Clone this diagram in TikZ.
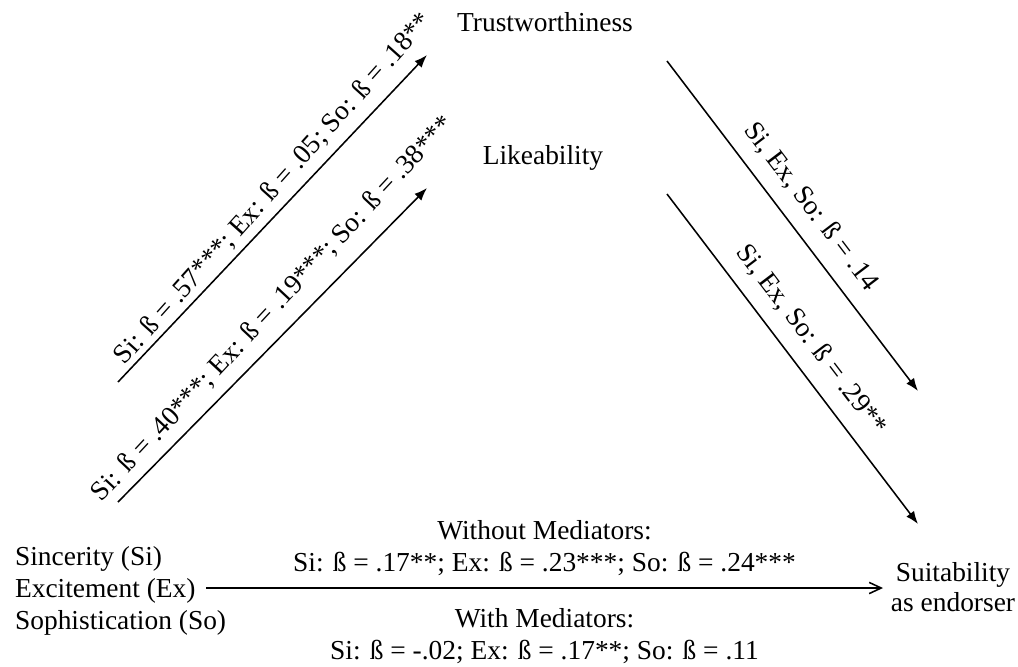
\documentclass[tikz,border=0pt]{standalone}
\usepackage{fontspec}
\setmainfont{Liberation Serif}
\usetikzlibrary{arrows.meta}

\begin{document}
\begin{tikzpicture}[x=0.025cm, y=-0.025cm,
        lbl/.style={font=\fontsize{19.5}{23}\selectfont, align=center, inner sep=2pt},
        effect/.style={line width=1.1pt, -{Latex[length=3.2mm, width=2.4mm]}},
        direct/.style={line width=1.1pt, -{Straight Barb[length=3mm, width=2.8mm]}}]
      \useasboundingbox (0,0) rectangle (1018,666);
      % Constructs
      \node[lbl] (trust) at (545,22) {Trustworthiness};
      \node[lbl] (like) at (543,158) {Likeability};
      \node[lbl, align=left, anchor=west] (traits) at (12,591) {Sincerity (Si)\\Excitement (Ex)\\Sophistication (So)};
      \node[lbl, font=\fontsize{19.5}{21.5}\selectfont] (suit) at (953,587) {Suitability\\as endorser};

      % Arrow ends
      \coordinate (a0) at (118,382); \coordinate (a1) at (427,55);
      \coordinate (b0) at (118,502); \coordinate (b1) at (427,188);
      \coordinate (c0) at (667,61);  \coordinate (c1) at (918,391);
      \coordinate (e0) at (667,194); \coordinate (e1) at (918,524);
      \coordinate (d0) at (206,588); \coordinate (d1) at (883,588);

      % Paths
      \draw[effect] (a0) -- node[lbl, sloped, rotate=1.5, above=3pt, pos=0.55] (ta) {Si: ß = .57***; Ex: ß = .05; So: ß = .18**} (a1);
      \draw[effect] (b0) -- node[lbl, sloped, rotate=1.5, above=7pt, pos=0.56] (la) {Si: ß = .40***; Ex: ß = .19***; So: ß = .38***} (b1);
      \draw[effect] (c0) -- node[lbl, sloped, above=8pt, pos=0.49] (ts) {Si, Ex, So: ß = .14} (c1);
      \draw[effect] (e0) -- node[lbl, sloped, above=8pt, pos=0.49] (ls) {Si, Ex, So: ß = .29**} (e1);
      \draw[direct] (d0) -- node[lbl, above=6pt] (nomed) {Without Mediators:\\Si: ß = .17**; Ex: ß = .23***; So: ß = .24***}
                           node[lbl, below=12pt] (med) {With Mediators:\\Si: ß = -.02; Ex: ß = .17**; So: ß = .11} (d1);
    \end{tikzpicture}
\end{document}
